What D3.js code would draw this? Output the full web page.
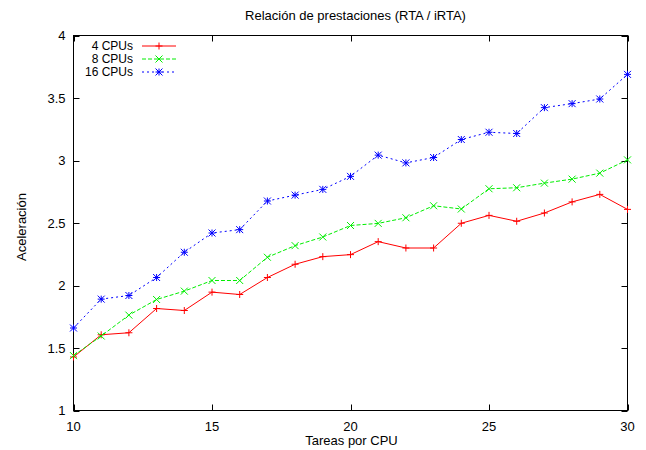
<!DOCTYPE html>
<html><head><meta charset="utf-8">
<script src="https://cdn.jsdelivr.net/npm/d3@7"></script>
<style>body{margin:0;background:#fff}svg{display:block}text{font-family:"Liberation Sans",Arial,Helvetica,sans-serif;fill:#000}</style>
</head><body><svg id="c" width="646" height="450"></svg>
<script>
const tasks = [10,11,12,13,14,15,16,17,18,19,20,21,22,23,24,25,26,27,28,29,30];
const cpu4  = [1.428,1.606,1.622,1.816,1.800,1.947,1.928,2.064,2.170,2.231,2.247,2.351,2.300,2.300,2.498,2.561,2.514,2.580,2.669,2.729,2.609];
const cpu8  = [1.439,1.596,1.763,1.888,1.955,2.040,2.040,2.226,2.319,2.388,2.480,2.497,2.542,2.638,2.612,2.774,2.782,2.819,2.851,2.899,3.005];
const cpu16 = [1.660,1.891,1.920,2.064,2.266,2.420,2.447,2.676,2.723,2.769,2.873,3.043,2.981,3.024,3.168,3.226,3.216,3.423,3.455,3.492,3.689];
const xTicks = [10,15,20,25,30];
const yTicks = [1,1.5,2,2.5,3,3.5,4];
const seriesNames = ["4 CPUs","8 CPUs","16 CPUs"];
const seriesColors = ["#ff0000","#00ee00","#0000ff"];
const seriesDash = [null,"4,2","2,3"];
const seriesMarker = ["plus","cross","star"];
const title = "Relación de prestaciones (RTA / iRTA)";
const xLabel = "Tareas por CPU";
const yLabel = "Aceleración";

const svg = d3.select("#c");
const L=73.5, R=627.5, T=35.5, B=410.5;
const x = d3.scaleLinear().domain([10,30]).range([L,R]);
const y = d3.scaleLinear().domain([1,4]).range([B,T]);
const fs = 13;

// ticks (inward, mirrored)
const tl = 6;
const g = svg.append("g").attr("stroke","#000").attr("stroke-width",1);
xTicks.forEach(v=>{
  const px = Math.round(x(v))+0.5;
  g.append("line").attr("x1",px).attr("x2",px).attr("y1",B).attr("y2",B-tl);
  g.append("line").attr("x1",px).attr("x2",px).attr("y1",T).attr("y2",T+tl);
});
yTicks.forEach(v=>{
  const py = Math.round(y(v))+0.5;
  g.append("line").attr("x1",L).attr("x2",L+tl).attr("y1",py).attr("y2",py);
  g.append("line").attr("x1",R).attr("x2",R-tl).attr("y1",py).attr("y2",py);
});
svg.append("rect").attr("x",L).attr("y",T).attr("width",R-L).attr("height",B-T)
  .attr("fill","none").attr("stroke","#000").attr("stroke-width",1);

// tick labels
xTicks.forEach(v=>{
  svg.append("text").attr("x",x(v)).attr("y",B+20).attr("text-anchor","middle")
    .attr("font-size",fs).text(d3.format("")(v));
});
yTicks.forEach(v=>{
  svg.append("text").attr("x",L-8).attr("y",y(v)+4.5).attr("text-anchor","end")
    .attr("font-size",fs).text(d3.format("")(v));
});

// titles
svg.append("text").attr("x",(L+R)/2+5).attr("y",20).attr("text-anchor","middle").attr("font-size",fs).text(title);
svg.append("text").attr("x",(L+R)/2+1).attr("y",445).attr("text-anchor","middle").attr("font-size",fs).text(xLabel);
svg.append("text").attr("transform","translate(26,"+((T+B)/2+4)+") rotate(-90)").attr("text-anchor","middle").attr("font-size",fs).text(yLabel);

function marker(sel, cx, cy, type, color){
  const s=3.5;
  const mg = sel.append("g").attr("stroke",color).attr("stroke-width",1).attr("fill","none");
  if(type==="plus"||type==="star"){
    mg.append("line").attr("x1",cx-s).attr("x2",cx+s).attr("y1",cy).attr("y2",cy);
    mg.append("line").attr("x1",cx).attr("x2",cx).attr("y1",cy-s).attr("y2",cy+s);
  }
  if(type==="cross"||type==="star"){
    mg.append("line").attr("x1",cx-s).attr("x2",cx+s).attr("y1",cy-s).attr("y2",cy+s);
    mg.append("line").attr("x1",cx-s).attr("x2",cx+s).attr("y1",cy+s).attr("y2",cy-s);
  }
}

const data = [cpu4,cpu8,cpu16];
const line = d3.line().x((d,i)=>x(tasks[i])).y(d=>y(d));
const plot = svg.append("g");
data.forEach((vals,k)=>{
  plot.append("path").datum(vals).attr("d",line).attr("fill","none")
    .attr("stroke",seriesColors[k]).attr("stroke-width",1)
    .attr("stroke-dasharray",seriesDash[k]);
  vals.forEach((v,i)=>marker(plot,x(tasks[i]),y(v),seriesMarker[k],seriesColors[k]));
});

// legend
seriesNames.forEach((n,k)=>{
  const ly = 46 + k*13;
  svg.append("text").attr("x",133).attr("y",ly+4.3).attr("text-anchor","end").attr("font-size",12).text(n);
  svg.append("line").attr("x1",142).attr("x2",176).attr("y1",ly).attr("y2",ly)
    .attr("stroke",seriesColors[k]).attr("stroke-width",1).attr("stroke-dasharray",seriesDash[k]);
  marker(svg,159,ly,seriesMarker[k],seriesColors[k]);
});
</script></body></html>
